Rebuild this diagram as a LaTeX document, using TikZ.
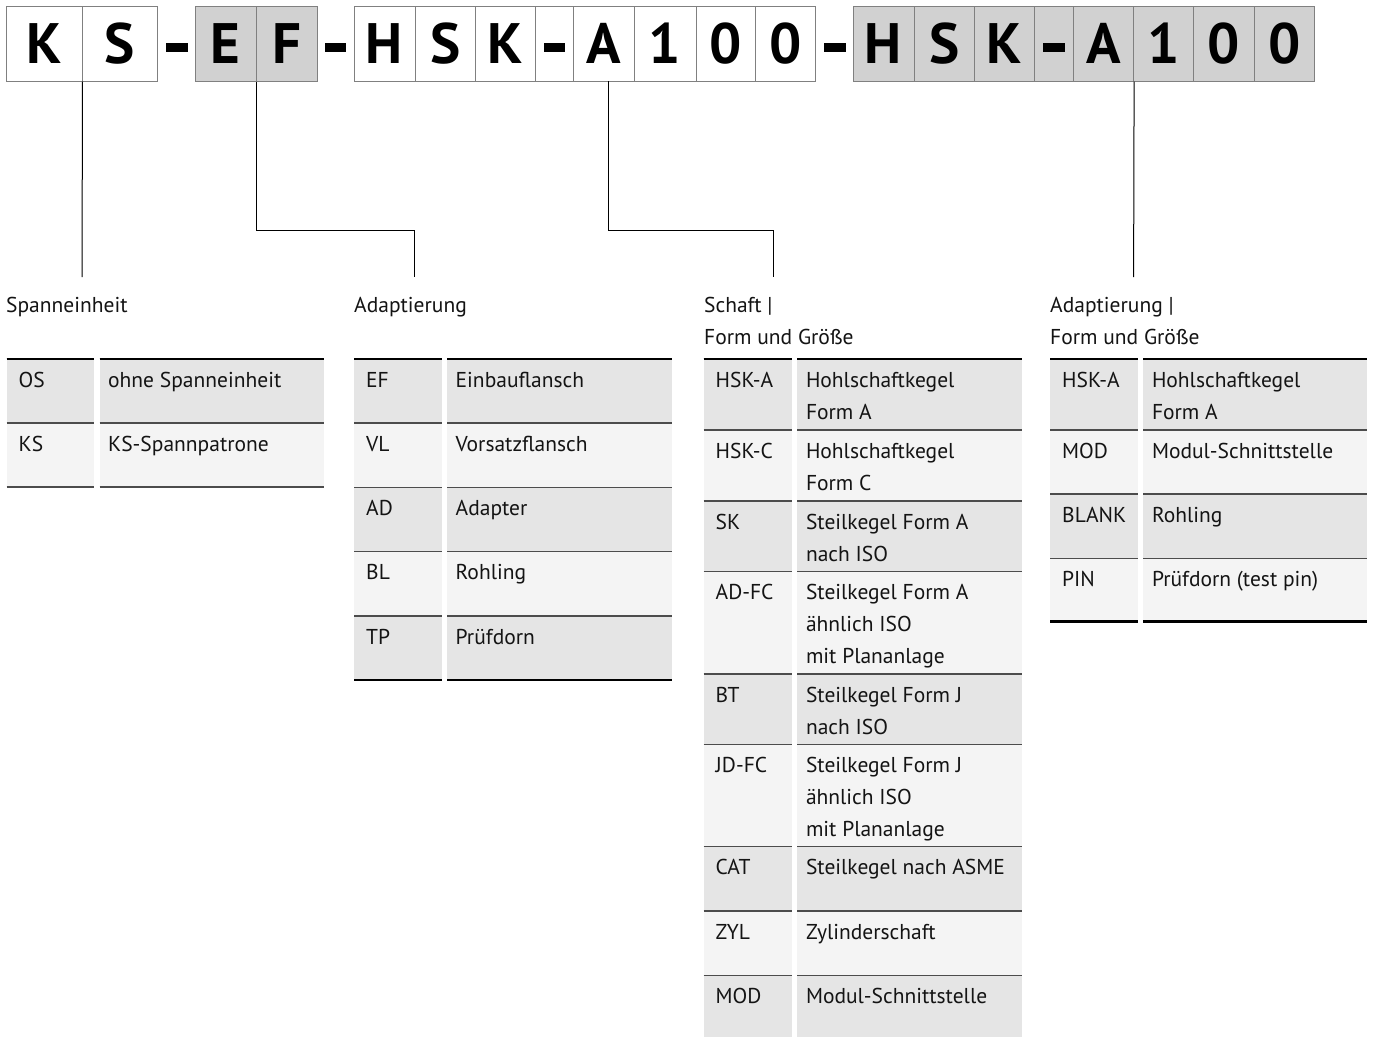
\documentclass[tikz,border=0pt]{standalone}
\usepackage{fontspec}
\setmainfont{PT Sans}
\definecolor{rowdark}{gray}{0.90}
\definecolor{rowlight}{gray}{0.955}
\definecolor{boxgray}{gray}{0.82}
\definecolor{edgegray}{gray}{0.5}
\definecolor{sepgray}{gray}{0.3}
\definecolor{ink}{gray}{0.08}
\tikzset{
  cell/.style={draw=edgegray, line width=1pt, minimum height=75pt, inner sep=0pt,
    text height=40pt, text depth=0pt, font=\fontsize{57}{57}\selectfont\bfseries, text=black},
  wcell/.style={cell, fill=white},
  gcell/.style={cell, fill=boxgray},
  dashbar/.style={fill=black, draw=none, minimum width=21.5pt, minimum height=9pt, inner sep=0pt},
  conn/.style={draw=black, line width=1pt},
  tx/.style={anchor=base west, inner sep=0pt, font=\fontsize{21.5}{24}\selectfont, text=ink},
  seprule/.style={draw=sepgray, line width=1.3pt},
  heavyrule/.style={draw=black, line width=2.6pt},
}
\newcommand{\hcell}[5]{\node[#1, minimum width={#3-#2}] (#4) at ({(#2+#3)/2},43.5) {#5};}
\newcommand{\trow}[6]{%
  \fill[#4] (\ca,#2) rectangle (\cb,#3);
  \fill[#4] (\cc,#2) rectangle (\cd,#3);
  \draw[seprule] (\ca,#2) -- (\cb,#2);
  \draw[seprule] (\cc,#2) -- (\cd,#2);
  \node[tx] (#1c) at ({\ca+12},{#2+28}) {#5};
  \foreach \ln [count=\i from 0] in {#6} {\node[tx] (#1d\i) at ({\cc+8.5},{#2+28+32*\i}) {\ln};}
}
\begin{document}
\begin{tikzpicture}[x=1pt,y=-1pt]
\useasboundingbox (0,0) rectangle (1373,1036);
\fill[white] (0,0) rectangle (1373,1036);

% ---------- header code boxes ----------
\hcell{wcell}{6.5}{82}{g1a}{K}
\hcell{wcell}{82}{157.6}{g1b}{S}
\node[dashbar] (d1) at (176.75,47.5) {};
\hcell{gcell}{195.5}{256}{g2a}{E}
\hcell{gcell}{256}{317}{g2b}{F}
\node[dashbar] (d2) at (335.5,47.5) {};
\hcell{wcell}{354}{415}{g3a}{H}
\hcell{wcell}{415}{475.4}{g3b}{S}
\hcell{wcell}{475.4}{535.7}{g3c}{K}
\hcell{wcell}{535.7}{573.7}{g3d}{}
\node[dashbar] (d3) at (g3d.center |- 0,47.5) {};
\hcell{wcell}{573.7}{634}{g3e}{A}
\hcell{wcell}{634}{696}{g3f}{1}
\hcell{wcell}{696}{755.5}{g3g}{0}
\hcell{wcell}{755.5}{815.6}{g3h}{0}
\node[dashbar] (d4) at (835,47.5) {};
\hcell{gcell}{853}{914}{g4a}{H}
\hcell{gcell}{914}{974.6}{g4b}{S}
\hcell{gcell}{974.6}{1034.7}{g4c}{K}
\hcell{gcell}{1034.7}{1073}{g4d}{}
\node[dashbar] (d5) at (g4d.center |- 0,47.5) {};
\hcell{gcell}{1073}{1133.6}{g4e}{A}
\hcell{gcell}{1133.6}{1193.7}{g4f}{1}
\hcell{gcell}{1193.7}{1254}{g4g}{0}
\hcell{gcell}{1254}{1314.7}{g4h}{0}

% ---------- connectors ----------
\coordinate (h1) at (82,277);
\coordinate (k2) at (414,230);
\coordinate (h2) at (414,277);
\coordinate (s3) at (608,81);
\coordinate (k3) at (773,230);
\coordinate (h3) at (773,277);
\coordinate (h4) at (1133.6,277);
\draw[conn] (g1a.south east) -- (h1);
\draw[conn] (g2a.south east) |- (k2) -- (h2);
\draw[conn] (s3) |- (k3) -- (h3);
\draw[conn] (g4e.south east) -- (h4);

% ---------- headings ----------
\node[tx] (t1h) at (6,312) {Spanneinheit};
\node[tx] (t2h) at (354,312) {Adaptierung};
\node[tx] (t3h) at (704,312) {Schaft |};
\node[tx] (t3h2) at (704,344) {Form und Größe};
\node[tx] (t4h) at (1050,312) {Adaptierung |};
\node[tx] (t4h2) at (1050,344) {Form und Größe};

% ---------- table 1 ----------
\def\ca{6.5}\def\cb{94}\def\cc{99.5}\def\cd{324}
\trow{ta}{359}{423}{rowdark}{OS}{ohne Spanneinheit}
\trow{tb}{423}{487}{rowlight}{KS}{KS-Spannpatrone}
\draw[heavyrule] (\ca,359) -- (\cb,359) (\cc,359) -- (\cd,359);
\draw[seprule] (\ca,487) -- (\cb,487) (\cc,487) -- (\cd,487);

% ---------- table 2 ----------
\def\ca{354}\def\cb{441.7}\def\cc{447}\def\cd{671.5}
\trow{ua}{359}{423}{rowdark}{EF}{Einbauflansch}
\trow{ub}{423}{487.3}{rowlight}{VL}{Vorsatzflansch}
\trow{uc}{487.3}{551.7}{rowdark}{AD}{Adapter}
\trow{ud}{551.7}{616}{rowlight}{BL}{Rohling}
\trow{ue}{616}{680}{rowdark}{TP}{Prüfdorn}
\draw[heavyrule] (\ca,359) -- (\cb,359) (\cc,359) -- (\cd,359);
\draw[heavyrule] (\ca,680) -- (\cb,680) (\cc,680) -- (\cd,680);

% ---------- table 3 ----------
\def\ca{703.5}\def\cb{791.7}\def\cc{797.3}\def\cd{1021.5}
\trow{va}{359}{430}{rowdark}{HSK-A}{Hohlschaftkegel,Form A}
\trow{vb}{430}{501}{rowlight}{HSK-C}{Hohlschaftkegel,Form C}
\trow{vc}{501}{571.5}{rowdark}{SK}{Steilkegel Form A,nach ISO}
\trow{vd}{571.5}{674}{rowlight}{AD-FC}{Steilkegel Form A,ähnlich ISO,mit Plananlage}
\trow{ve}{674}{744.3}{rowdark}{BT}{Steilkegel Form J,nach ISO}
\trow{vf}{744.3}{846.7}{rowlight}{JD-FC}{Steilkegel Form J,ähnlich ISO,mit Plananlage}
\trow{vg}{846.7}{911}{rowdark}{CAT}{Steilkegel nach ASME}
\trow{vh}{911}{975.7}{rowlight}{ZYL}{Zylinderschaft}
\trow{vi}{975.7}{1040}{rowdark}{MOD}{Modul-Schnittstelle}
\draw[heavyrule] (\ca,359) -- (\cb,359) (\cc,359) -- (\cd,359);

% ---------- table 4 ----------
\def\ca{1050}\def\cb{1138.3}\def\cc{1143.3}\def\cd{1366.7}
\trow{wa}{359}{430}{rowdark}{HSK-A}{Hohlschaftkegel,Form A}
\trow{wb}{430}{494}{rowlight}{MOD}{Modul-Schnittstelle}
\trow{wc}{494}{558.3}{rowdark}{BLANK}{Rohling}
\trow{wd}{558.3}{621.7}{rowlight}{PIN}{Prüfdorn (test pin)}
\draw[heavyrule] (\ca,359) -- (\cb,359) (\cc,359) -- (\cd,359);
\draw[heavyrule] (\ca,621.7) -- (\cb,621.7) (\cc,621.7) -- (\cd,621.7);
\end{tikzpicture}
\end{document}
